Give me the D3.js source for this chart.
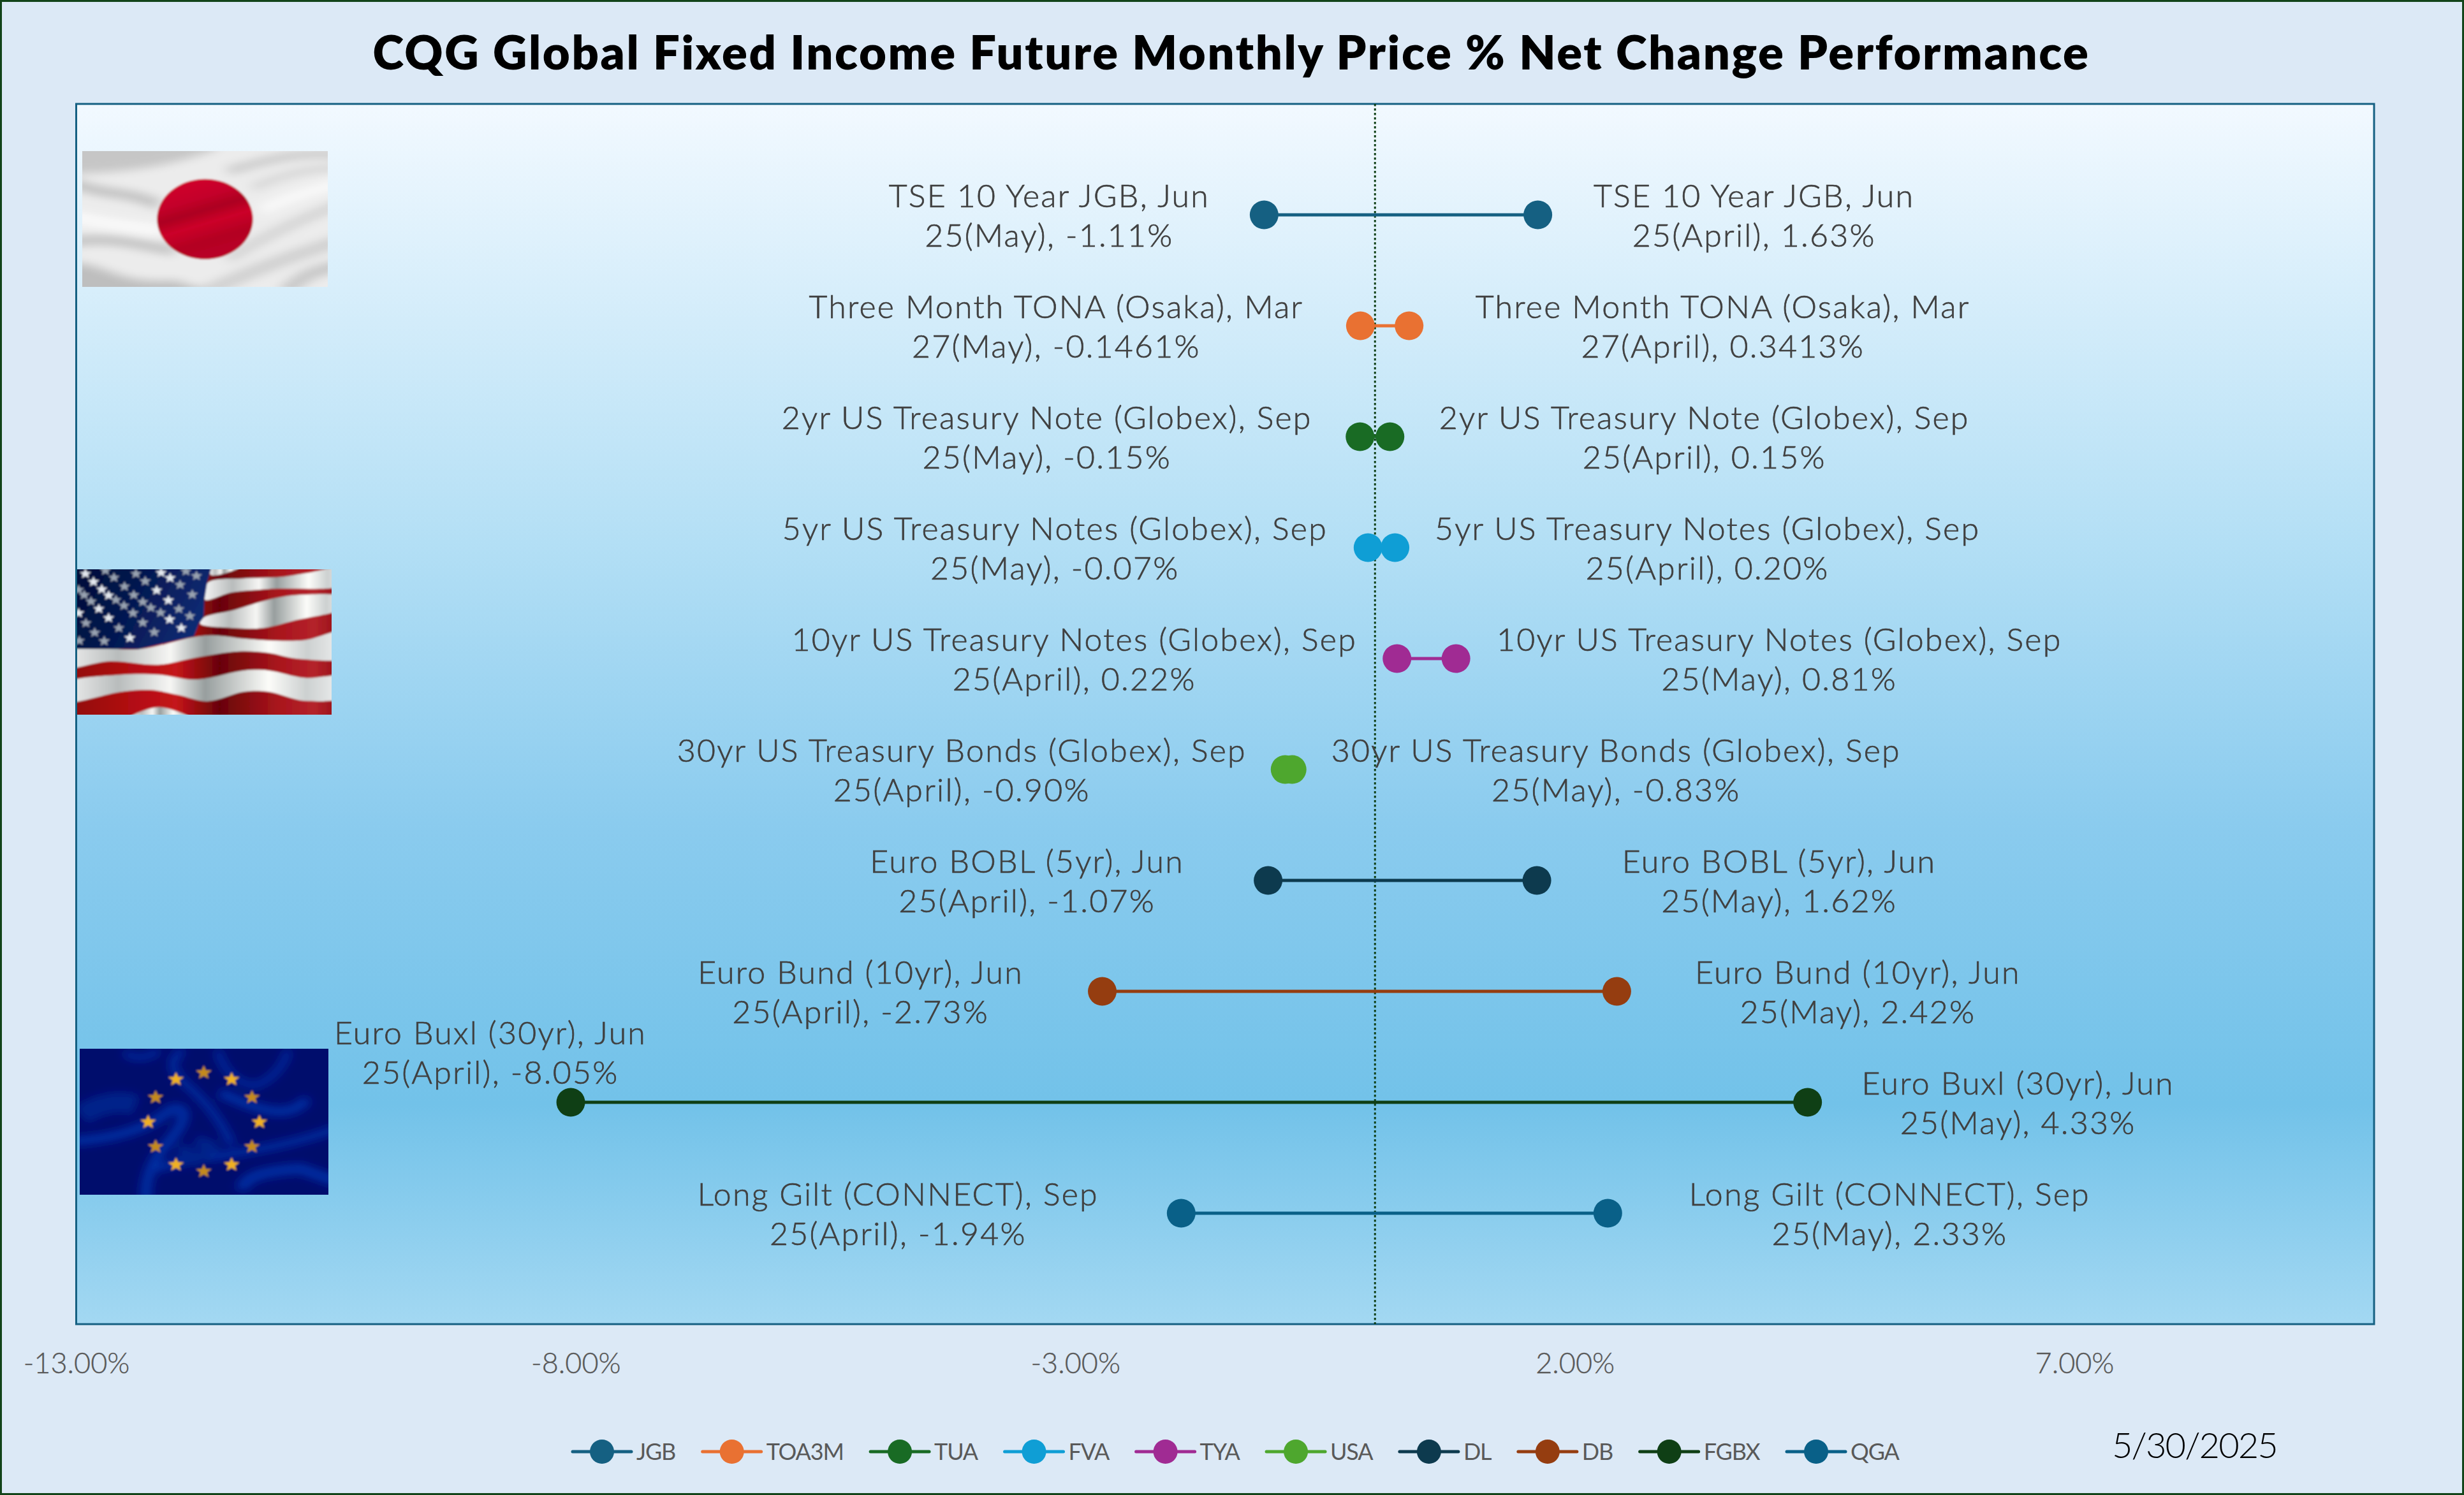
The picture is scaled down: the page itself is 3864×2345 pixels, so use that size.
<!DOCTYPE html>
<html>
<head>
<meta charset="utf-8">
<script src="https://cdn.jsdelivr.net/npm/d3@7"></script>
<style>
  html, body { margin: 0; padding: 0; background: #dce9f6; }
  svg { display: block; }
</style>
</head>
<body>
<svg id="chart" width="3864" height="2345"></svg>
<script>
// chart values, top row first
const contracts = ['TSE 10 Year JGB', 'Three Month TONA (Osaka)', '2yr US Treasury Note (Globex)', '5yr US Treasury Notes (Globex)', '10yr US Treasury Notes (Globex)', '30yr US Treasury Bonds (Globex)', 'Euro BOBL (5yr)', 'Euro Bund (10yr)', 'Euro Buxl (30yr)', 'Long Gilt (CONNECT)']
const expiryMonths = ['Jun', 'Mar', 'Sep', 'Sep', 'Sep', 'Sep', 'Jun', 'Jun', 'Jun', 'Sep']
const expiryYears = ['25', '27', '25', '25', '25', '25', '25', '25', '25', '25']
const leftValues = [-1.11, -0.1461, -0.15, -0.07, 0.22, -0.90, -1.07, -2.73, -8.05, -1.94]
const rightValues = [1.63, 0.3413, 0.15, 0.20, 0.81, -0.83, 1.62, 2.42, 4.33, 2.33]
const leftMonths = ['May', 'May', 'May', 'May', 'April', 'April', 'April', 'April', 'April', 'April']
const rightMonths = ['April', 'April', 'April', 'April', 'May', 'May', 'May', 'May', 'May', 'May']
const valueDecimals = [2, 4, 2, 2, 2, 2, 2, 2, 2, 2]
const symbols = ['JGB', 'TOA3M', 'TUA', 'FVA', 'TYA', 'USA', 'DL', 'DB', 'FGBX', 'QGA']
const tickValues = [-13, -8, -3, 2, 7]
const chartTitle = 'CQG Global Fixed Income Future Monthly Price % Net Change Performance'
const chartDate = '5/30/2025'

// styling and layout
const colors = ['#156082', '#e97132', '#196b24', '#0f9ed5', '#a02b93', '#4ea72e', '#0d3a4e', '#953d10', '#0f3f15', '#096088']
const plot = { left: 119.5, right: 3723, top: 163, bottom: 2077 }
const leftLabelGap = [337, 477, 491, 491, 506, 507, 378, 379, 126, 444]   // point to label centre
const rightLabelGap = [339, 492, 493, 490, 507, 508, 380, 378, 330, 442]
const fontName = 'Lato, "Open Sans", sans-serif'

const svg = d3.select('#chart')
const defs = svg.append('defs')

function addGradient(id, stops, x2, y2) {
    const g = defs.append('linearGradient').attr('id', id)
        .attr('x1', 0).attr('y1', 0).attr('x2', x2).attr('y2', y2)
    stops.forEach(s => g.append('stop').attr('offset', s[0]).attr('stop-color', s[1]))
}
function addBlur(id, dev) {
    defs.append('filter').attr('id', id)
        .attr('x', '-10%').attr('y', '-10%').attr('width', '120%').attr('height', '120%')
        .append('feGaussianBlur').attr('stdDeviation', dev)
}

addGradient('plotFill', [[0, '#f2f9ff'], [0.36, '#b3dff5'], [0.594, '#8acbee'], [0.82, '#72c2e9'], [1, '#a3d8f2']], 0, 1)
addGradient('jpDisc', [[0, '#d6002c'], [0.35, '#c4002a'], [0.5, '#ac0020'], [0.65, '#cc0029'], [0.85, '#b30022'], [1, '#b80026']], 0.35, 1)
addGradient('usRed', [[0, '#8c0508'], [0.25, '#b20d12'], [0.4, '#c4141a'], [0.55, '#680406'], [0.75, '#a8141c'], [0.88, '#b4222a'], [1, '#8a0a10']], 1, 0)
addGradient('usWhite', [[0, '#f4f4f4'], [0.2, '#b8bcbc'], [0.38, '#f6f6f4'], [0.5, '#979e9e'], [0.72, '#fcfcf9'], [0.85, '#ccd0d0'], [1, '#f6f6f6']], 1, 0)
addGradient('usBlue', [[0, '#020a32'], [0.5, '#04164e'], [1, '#0c2a72']], 1, 0.3)
addBlur('soft', 1.4)
addBlur('folds', 16)
addBlur('swirl', 20)

// page background and outer frame
svg.append('rect')
    .attr('x', 1.5).attr('y', 1.5)
    .attr('width', 3861).attr('height', 2342)
    .attr('fill', '#dce9f6')
    .attr('stroke', '#124419')
    .attr('stroke-width', 3)

// title
svg.append('text')
    .attr('x', 1931).attr('y', 109)
    .attr('text-anchor', 'middle')
    .attr('font-family', fontName)
    .attr('font-weight', 800)
    .attr('font-size', 74)
    .attr('letter-spacing', 2.6)
    .attr('fill', '#000')
    .text(chartTitle)

// plot area
svg.append('rect')
    .attr('x', plot.left).attr('y', plot.top)
    .attr('width', plot.right - plot.left).attr('height', plot.bottom - plot.top)
    .attr('fill', 'url(#plotFill)')
    .attr('stroke', '#156082')
    .attr('stroke-width', 3)

const x = d3.scaleLinear().domain([-13, 10]).range([plot.left, plot.right])
const y = d3.scaleLinear().domain([0, 11]).range([plot.top, plot.bottom])

// x axis labels only
const xAxis = svg.append('g')
    .attr('transform', `translate(0, ${plot.bottom + 42})`)
    .call(d3.axisBottom(x)
        .tickValues(tickValues)
        .tickSize(0)
        .tickFormat(d => d3.format('.2f')(d).replace('\u2212', '-') + '%'))
xAxis.select('.domain').remove()
xAxis.selectAll('text')
    .attr('font-family', fontName)
    .attr('font-weight', 300)
    .attr('font-size', 45)
    .attr('stroke', '#595959')
    .attr('stroke-width', 0.4)
    .attr('fill', '#595959')

// flags are plain drawings, laid out in the pixels of a crop and squeezed back
function flagGroup(id, box, transform) {
    defs.append('clipPath').attr('id', id)
        .append('rect')
        .attr('x', box[0]).attr('y', box[1])
        .attr('width', box[2] - box[0]).attr('height', box[3] - box[1])
    return svg.append('g').attr('clip-path', `url(#${id})`)
        .append('g').attr('filter', 'url(#soft)')
        .append('g').attr('transform', transform)
}

const japan = flagGroup('jpClip', [129, 237, 514, 450], 'scale(0.6378, 0.4464)')
japan.append('rect').attr('x', 150).attr('y', 480).attr('width', 710).attr('height', 580).attr('fill', '#ececec')
const jpFolds = japan.append('g').attr('filter', 'url(#folds)').attr('fill', 'none')
jpFolds.append('path').attr('d', 'M150,480 L560,480 L520,531 C450,565 350,610 150,610 Z').attr('fill', '#c6c6c6')
jpFolds.append('path').attr('d', 'M170,640 C260,690 320,670 390,720').attr('stroke', '#bcbcbc').attr('stroke-width', 30)
jpFolds.append('path').attr('d', 'M170,850 C290,830 330,860 430,880').attr('stroke', '#bdbdbd').attr('stroke-width', 30)
jpFolds.append('path').attr('d', 'M170,920 C270,930 290,1000 430,985 L590,1060 L170,1060 Z').attr('fill', '#bebebe')
jpFolds.append('path').attr('d', 'M560,600 C640,575 720,525 850,545').attr('stroke', '#c4c4c4').attr('stroke-width', 24)
jpFolds.append('path').attr('d', 'M620,660 C690,620 740,590 850,590').attr('stroke', '#d4d4d4').attr('stroke-width', 24)
jpFolds.append('path').attr('d', 'M560,910 C650,830 740,770 850,710').attr('stroke', '#d2d2d2').attr('stroke-width', 30)
jpFolds.append('path').attr('d', 'M500,1030 C600,965 700,905 850,840').attr('stroke', '#cfcfcf').attr('stroke-width', 40)
jpFolds.append('path').attr('d', 'M700,1030 C740,970 770,950 850,930').attr('stroke', '#c4c4c4').attr('stroke-width', 36)
jpFolds.append('path').attr('d', 'M170,760 C280,790 330,800 400,810').attr('stroke', '#fafafa').attr('stroke-width', 40)
jpFolds.append('path').attr('d', 'M640,740 C700,700 760,670 850,640').attr('stroke', '#f8f8f8').attr('stroke-width', 40)
japan.append('ellipse').attr('cx', 504).attr('cy', 770).attr('rx', 118).attr('ry', 141).attr('fill', 'url(#jpDisc)')

const usa = flagGroup('usClip', [121, 893, 520, 1121], 'translate(0, 850) scale(0.3827, 0.3333)')
usa.append('rect').attr('x', 250).attr('y', 100).attr('width', 1180).attr('height', 750).attr('fill', 'url(#usRed)')
const usWhiteBands = [
    [[865, 100], [980, 120], [865, 156]],
    [[852, 192], [1000, 172], [1150, 165], [1260, 146], [1420, 122], [1420, 198], [1100, 222], [950, 238], [840, 272]],
    [[835, 356], [960, 320], [1100, 272], [1220, 250], [1420, 262], [1420, 305], [1200, 372], [1080, 405], [950, 405], [820, 385]],
    [[260, 503], [570, 505], [800, 447], [880, 440], [1000, 455], [1130, 465], [1250, 462], [1420, 420], [1420, 540], [1220, 550], [1100, 522], [980, 515], [800, 545], [650, 578], [450, 562], [260, 590]],
    [[260, 670], [500, 625], [650, 625], [800, 648], [1000, 605], [1100, 605], [1250, 640], [1420, 635], [1420, 725], [1250, 748], [1100, 705], [1000, 705], [850, 750], [730, 720], [620, 697], [500, 705], [260, 750]],
    [[530, 830], [650, 778], [780, 830]]
]
usa.selectAll('.band')
    .data(usWhiteBands)
    .enter()
    .append('path')
        .attr('class', 'band')
        .attr('d', d => d3.line().curve(d3.curveCatmullRomClosed.alpha(0.5))(d))
        .attr('fill', 'url(#usWhite)')
usa.append('path')
    .attr('d', 'M250,100 L872,100 L850,185 L838,270 L835,355 L815,385 L795,445 L570,505 L250,503 Z')
    .attr('fill', 'url(#usBlue)')

// five pointed star around a centre
function starPath(cx, cy, r) {
    const pts = d3.range(10).map(i => {
        const a = -Math.PI / 2 + i * Math.PI / 5
        const rr = i % 2 ? r * 0.42 : r
        return [cx + rr * Math.cos(a), cy + rr * Math.sin(a)]
    })
    return 'M' + pts.join('L') + 'Z'
}
const usStars = [[350, 150], [432, 135], [557, 150], [660, 145], [762, 138], [805, 160], [697, 170], [595, 185], [467, 168], [383, 188], [510, 210], [738, 202], [642, 228], [788, 248], [548, 250], [417, 223], [345, 250], [322, 225], [445, 252], [475, 273], [373, 280], [690, 275], [585, 283], [508, 300], [405, 315], [618, 310], [733, 316], [322, 335], [545, 335], [658, 333], [445, 358], [778, 349], [352, 382], [695, 365], [585, 380], [487, 405], [743, 405], [632, 425], [388, 427], [532, 452], [427, 467], [325, 465]]
usa.selectAll('.star')
    .data(usStars)
    .enter()
    .append('path')
        .attr('class', 'star')
        .attr('d', d => starPath(d[0], d[1], 25))
        .attr('fill', (d, i) => i % 3 == 0 ? '#e4e8ee' : '#98a2b0')

const europe = flagGroup('euClip', [125, 1645, 515, 1874], 'translate(0, 1600) scale(0.3827, 0.3333)')
europe.append('rect').attr('x', 280).attr('y', 100).attr('width', 1110).attr('height', 760).attr('fill', '#000a6c')
const euFolds = europe.append('g').attr('filter', 'url(#swirl)').attr('fill', 'none').attr('stroke', '#0530a4')
euFolds.append('path').attr('d', 'M510,150 C540,190 620,180 650,140').attr('stroke-width', 28)
euFolds.append('path').attr('d', 'M750,140 C690,190 700,240 760,300 C820,360 900,450 950,590').attr('stroke-width', 32)
euFolds.append('path').attr('d', 'M890,140 C910,220 950,290 1040,310 C1110,290 1170,210 1180,140').attr('stroke-width', 28)
euFolds.append('path').attr('d', 'M300,570 C450,560 600,520 700,420 C760,400 780,450 700,560 C620,660 590,760 600,850').attr('stroke-width', 44)
euFolds.append('path').attr('d', 'M330,450 C420,380 500,380 560,400').attr('stroke-width', 100).attr('stroke', '#03208a')
euFolds.append('path').attr('d', 'M640,700 C800,640 1100,630 1380,510').attr('stroke-width', 34)
euFolds.append('path').attr('d', 'M900,340 C1050,420 1180,480 1260,370').attr('stroke-width', 44)
euFolds.append('path').attr('d', 'M990,800 C1000,730 1100,710 1230,700 L1380,760').attr('stroke-width', 50)
euFolds.append('path').attr('d', 'M780,600 C760,640 800,680 860,560').attr('stroke-width', 100).attr('stroke', '#03208a')
europe.selectAll('.star')
    .data(d3.range(12))
    .enter()
    .append('path')
        .attr('class', 'star')
        .attr('d', i => {
            const a = i * Math.PI / 6
            return starPath(835 + 228 * Math.sin(a), 480 - 232 * Math.cos(a), 34)
        })
        .attr('fill', i => i % 2 ? '#f0b020' : '#c48a1c')

// zero line
svg.append('line')
    .attr('x1', x(0)).attr('x2', x(0))
    .attr('y1', plot.top).attr('y2', plot.bottom)
    .attr('stroke', '#0f3f15')
    .attr('stroke-width', 3)
    .attr('stroke-dasharray', '3.5 3.5')

// connectors and markers
const rows = svg.selectAll('.row')
    .data(contracts.map((d, i) => i))
    .enter()
    .append('g')
        .attr('class', 'row')

rows.append('line')
    .attr('x1', i => x(leftValues[i])).attr('x2', i => x(rightValues[i]))
    .attr('y1', i => y(i + 1)).attr('y2', i => y(i + 1))
    .attr('stroke', i => colors[i])
    .attr('stroke-width', 5)

rows.selectAll('circle')
    .data(i => [[i, leftValues[i]], [i, rightValues[i]]])
    .enter()
    .append('circle')
        .attr('cx', d => x(d[1]))
        .attr('cy', d => y(d[0] + 1))
        .attr('r', 22.5)
        .attr('fill', d => colors[d[0]])

// two line data labels on each side
function addLabels(values, months, gaps, dir) {
    const label = svg.append('g')
        .selectAll('text')
        .data(contracts.map((d, i) => i))
        .enter()
        .append('text')
            .attr('text-anchor', 'middle')
            .attr('font-family', fontName)
            .attr('font-weight', 300)
            .attr('font-size', 50)
            .attr('letter-spacing', 2.25)
            .attr('stroke', '#404040')
            .attr('stroke-width', 0.7)
            .attr('fill', '#404040')
    // the Buxl label on the left sits above its row
    const lift = i => (dir < 0 && i == 8) ? -79 : 0
    const labelX = i => x(values[i]) + dir * gaps[i]
    label.append('tspan')
        .attr('x', labelX)
        .attr('y', i => y(i + 1) + lift(i) - 12)
        .text(i => `${contracts[i]}, ${expiryMonths[i]}`)
    label.append('tspan')
        .attr('x', labelX)
        .attr('y', i => y(i + 1) + lift(i) + 50)
        .text(i => `${expiryYears[i]}(${months[i]}), ${values[i].toFixed(valueDecimals[i])}%`)
}
addLabels(leftValues, leftMonths, leftLabelGap, -1)
addLabels(rightValues, rightMonths, rightLabelGap, 1)

// legend, each entry starts where the one before ended
let legendX = 944
symbols.forEach((s, i) => {
    const entry = svg.append('g').attr('transform', `translate(${legendX}, 2277)`)
    entry.append('line')
        .attr('x1', -46).attr('x2', 46)
        .attr('stroke', colors[i])
        .attr('stroke-width', 5)
        .attr('stroke-linecap', 'round')
    entry.append('circle')
        .attr('r', 19)
        .attr('fill', colors[i])
    const t = entry.append('text')
        .attr('x', 54).attr('y', 13)
        .attr('font-family', fontName)
        .attr('font-size', 36)
        .attr('letter-spacing', -1.2)
        .attr('fill', '#595959')
        .text(s)
    legendX += 54 + t.node().getComputedTextLength() + 88.5
})

// date stamp
svg.append('text')
    .attr('x', 3312).attr('y', 2287)
    .attr('font-family', fontName)
    .attr('font-weight', 300)
    .attr('font-size', 56)
    .attr('letter-spacing', -1.9)
    .attr('fill', '#000')
    .text(chartDate)
</script>
</body>
</html>
